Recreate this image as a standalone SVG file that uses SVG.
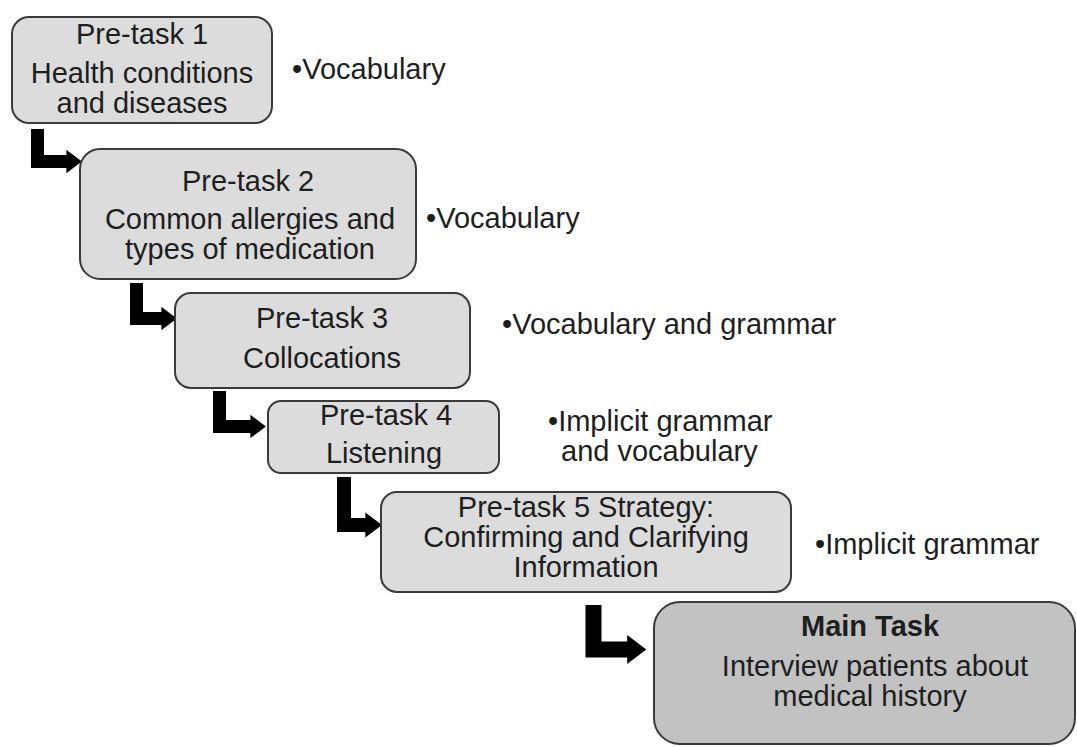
<svg xmlns="http://www.w3.org/2000/svg" width="1077" height="747" viewBox="0 0 1077 747">
<style>
.box{fill:#dcdcdc;stroke:#3a3a3a;stroke-width:2}
.main{fill:#c2c2c2;stroke:#3a3a3a;stroke-width:2}
text{font-family:"Liberation Sans",Arial,sans-serif;font-size:29px;fill:#1e1e1e}
.c{text-anchor:middle}
.b{font-weight:bold}
.conn{fill:none;stroke:#000;stroke-linejoin:miter;marker-end:url(#head)}
</style>
<defs>
<marker id="head" markerUnits="strokeWidth" markerWidth="1.2" markerHeight="1.8" viewBox="0 0 12 18" refX="0.5" refY="9" orient="auto">
<path d="M0,0 L12,9 L0,18 z" fill="#000"/>
</marker>
</defs>
<rect width="1077" height="747" fill="#fff"/>
<g id="connectors">
<path class="conn" stroke-width="13" d="M37.5,129 V161.5 H67"/>
<path class="conn" stroke-width="13" d="M136.5,283 V318.5 H162"/>
<path class="conn" stroke-width="13" d="M219.5,391 V426.5 H251"/>
<path class="conn" stroke-width="14" d="M344,477 V525 H366"/>
<path class="conn" stroke-width="16" d="M593.5,605 V649.5 H628"/>
</g>
<g id="pretask1">
<rect class="box" x="12" y="17" width="260" height="106" rx="17"/>
<text class="c" x="142" y="44">Pre-task 1</text>
<text class="c" x="142" y="83">Health conditions</text>
<text class="c" x="142" y="113">and diseases</text>
</g>
<g id="label1"><text x="292" y="79">•Vocabulary</text></g>
<g id="pretask2">
<rect class="box" x="80" y="149" width="336" height="130" rx="20"/>
<text class="c" x="248" y="191">Pre-task 2</text>
<text class="c" x="250" y="229">Common allergies and</text>
<text class="c" x="250" y="259">types of medication</text>
</g>
<g id="label2"><text x="426" y="228">•Vocabulary</text></g>
<g id="pretask3">
<rect class="box" x="175" y="293" width="295" height="95" rx="16"/>
<text class="c" x="322" y="328">Pre-task 3</text>
<text class="c" x="322" y="368">Collocations</text>
</g>
<g id="label3"><text x="502" y="334">•Vocabulary and grammar</text></g>
<g id="pretask4">
<rect class="box" x="268" y="401" width="231" height="72" rx="13"/>
<text class="c" x="386" y="425">Pre-task 4</text>
<text class="c" x="384" y="463">Listening</text>
</g>
<g id="label4">
<text x="548" y="431">•Implicit grammar</text>
<text x="561" y="461">and vocabulary</text>
</g>
<g id="pretask5">
<rect class="box" x="381" y="492" width="410" height="100" rx="16"/>
<text class="c" x="586" y="517">Pre-task 5 Strategy:</text>
<text class="c" x="586" y="547">Confirming and Clarifying</text>
<text class="c" x="586" y="577">Information</text>
</g>
<g id="label5"><text x="815" y="554">•Implicit grammar</text></g>
<g id="maintask">
<rect class="main" x="654" y="602" width="421" height="142" rx="26"/>
<text class="c b" x="870" y="636">Main Task</text>
<text class="c" x="875" y="676">Interview patients about</text>
<text class="c" x="870" y="706">medical history</text>
</g>
</svg>
